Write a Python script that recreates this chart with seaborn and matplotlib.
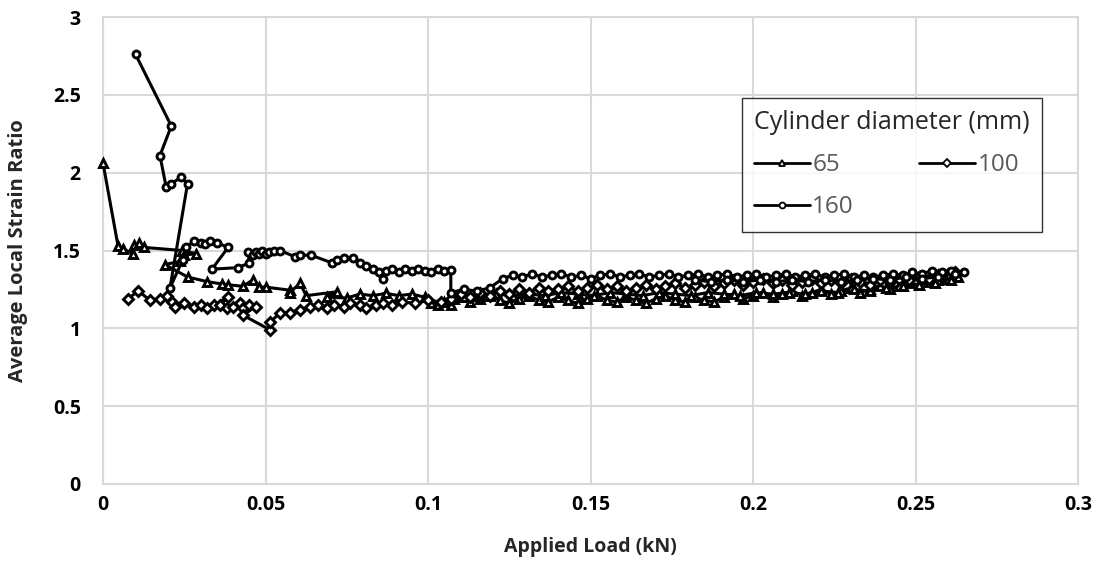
import matplotlib
matplotlib.use("Agg")
import matplotlib.pyplot as plt
import seaborn as sns
import pandas as pd
from matplotlib.lines import Line2D

# ---- data ----
x65 = [0.0000, 0.0046, 0.0062, 0.0092, 0.0095, 0.0110, 0.0126, 0.0243, 0.0286, 0.0250,
       0.0237, 0.0190, 0.0260, 0.0320, 0.0366, 0.0385, 0.0430, 0.0460, 0.0480, 0.0500,
       0.0575, 0.0575, 0.0606, 0.0625, 0.0720, 0.0690, 0.0750, 0.0790, 0.0830, 0.0870,
       0.0910, 0.0950, 0.0990, 0.1010, 0.1030, 0.1050, 0.1070, 0.1080,
       0.110, 0.113, 0.116, 0.119, 0.122, 0.125, 0.128, 0.131, 0.134, 0.137,
       0.140, 0.143, 0.146, 0.149, 0.152, 0.155, 0.158, 0.161, 0.164, 0.167,
       0.170, 0.173, 0.176, 0.179, 0.182, 0.185, 0.188,
       0.191, 0.194, 0.197, 0.200, 0.203, 0.206, 0.209, 0.212, 0.215, 0.218,
       0.221, 0.224, 0.227, 0.230, 0.233, 0.236, 0.239, 0.242, 0.245, 0.248,
       0.251, 0.254, 0.257, 0.260, 0.263,
       0.261, 0.256, 0.251, 0.246, 0.241, 0.236, 0.231, 0.226, 0.221, 0.216,
       0.211, 0.206, 0.201, 0.196, 0.191, 0.186, 0.181, 0.176, 0.171, 0.166,
       0.161, 0.156, 0.151, 0.146, 0.141, 0.136, 0.131, 0.126, 0.121, 0.116,
       0.111]
y65 = [2.06, 1.53, 1.51, 1.48, 1.535, 1.55, 1.52, 1.50, 1.48, 1.47,
       1.43, 1.41, 1.33, 1.30, 1.285, 1.28, 1.27, 1.31, 1.265, 1.265,
       1.245, 1.23, 1.29, 1.21, 1.235, 1.20, 1.195, 1.22, 1.21, 1.225,
       1.21, 1.22, 1.20, 1.16, 1.15, 1.17, 1.15, 1.19,
       1.20, 1.17, 1.19, 1.21, 1.18, 1.16, 1.19, 1.21, 1.18, 1.17,
       1.20, 1.18, 1.16, 1.19, 1.21, 1.18, 1.17, 1.20, 1.18, 1.16,
       1.19, 1.21, 1.18, 1.17, 1.20, 1.18, 1.17,
       1.20, 1.22, 1.19, 1.21, 1.23, 1.20, 1.22, 1.24, 1.21, 1.23,
       1.25, 1.22, 1.24, 1.26, 1.23, 1.25, 1.27, 1.25, 1.27, 1.29,
       1.28, 1.30, 1.31, 1.32, 1.33,
       1.31, 1.29, 1.28, 1.27, 1.26, 1.24, 1.25, 1.23, 1.24, 1.22,
       1.23, 1.22, 1.23, 1.21, 1.22, 1.23, 1.21, 1.22, 1.23, 1.21,
       1.22, 1.23, 1.21, 1.22, 1.23, 1.21, 1.22, 1.21, 1.22, 1.21,
       1.20]

x100 = [0.0077, 0.0108, 0.0145, 0.0175, 0.0197, 0.0212, 0.0220, 0.0250, 0.0280, 0.0300,
        0.0320, 0.0340, 0.0385, 0.0360, 0.0380, 0.0400, 0.0420, 0.0430, 0.0450, 0.0470,
        0.0430, 0.0514, 0.0514, 0.0545, 0.0575, 0.0606, 0.0637, 0.0660, 0.0690, 0.0710,
        0.0740, 0.0760, 0.0790, 0.0810, 0.0840, 0.0860, 0.0890, 0.0920, 0.0960, 0.1000,
        0.1040,
        0.107, 0.110, 0.113, 0.116, 0.119, 0.122, 0.125, 0.128, 0.131, 0.134,
        0.137, 0.140, 0.143, 0.146, 0.149, 0.152, 0.155, 0.158, 0.161, 0.164,
        0.167, 0.170, 0.173, 0.176, 0.179, 0.182, 0.185, 0.188, 0.191, 0.194,
        0.197, 0.200, 0.203, 0.206, 0.209, 0.212, 0.215, 0.218, 0.221, 0.224,
        0.227, 0.230, 0.233, 0.236, 0.239, 0.242, 0.245, 0.248, 0.251, 0.254,
        0.257, 0.260, 0.262]
y100 = [1.19, 1.24, 1.18, 1.19, 1.21, 1.17, 1.14, 1.16, 1.14, 1.15,
        1.13, 1.15, 1.20, 1.15, 1.13, 1.14, 1.16, 1.13, 1.15, 1.14,
        1.085, 0.99, 1.04, 1.10, 1.10, 1.12, 1.14, 1.15, 1.13, 1.15,
        1.14, 1.16, 1.15, 1.13, 1.15, 1.16, 1.15, 1.17, 1.16, 1.18,
        1.17,
        1.19, 1.22, 1.20, 1.23, 1.21, 1.24, 1.22, 1.25, 1.23, 1.26,
        1.24, 1.25, 1.27, 1.24, 1.26, 1.28, 1.25, 1.27, 1.24, 1.26,
        1.28, 1.25, 1.27, 1.29, 1.26, 1.28, 1.30, 1.27, 1.29, 1.31,
        1.28, 1.30, 1.32, 1.29, 1.31, 1.28, 1.30, 1.32, 1.29, 1.31,
        1.29, 1.32, 1.30, 1.28, 1.31, 1.30, 1.32, 1.31, 1.33, 1.32,
        1.34, 1.35, 1.36]

x160 = [0.0100, 0.0210, 0.0175, 0.0194, 0.0210, 0.0240, 0.0260, 0.0206, 0.0245, 0.0255,
        0.0280, 0.0300, 0.0315, 0.0330, 0.0350, 0.0385, 0.0335, 0.0415, 0.0450, 0.0446,
        0.0460, 0.0470, 0.0480, 0.0490, 0.0500, 0.0510, 0.0525, 0.0545, 0.0590, 0.0606,
        0.0640, 0.0705, 0.0720, 0.0740, 0.0770, 0.0790, 0.0810, 0.0860, 0.0830, 0.0850,
        0.0870, 0.0890, 0.0910, 0.0930, 0.0950, 0.0970, 0.0990, 0.1010, 0.1030, 0.1050,
        0.1070, 0.1070, 0.1110, 0.1150, 0.1190, 0.1230, 0.1260,
        0.129, 0.132, 0.135, 0.138, 0.141, 0.144, 0.147, 0.150, 0.153, 0.156,
        0.159, 0.162, 0.165, 0.168, 0.171, 0.174, 0.177, 0.180, 0.183, 0.186,
        0.189, 0.192, 0.195, 0.198, 0.201, 0.204, 0.207, 0.210, 0.213, 0.216,
        0.219, 0.222, 0.225, 0.228, 0.231, 0.234, 0.237, 0.240, 0.243, 0.246,
        0.249, 0.252, 0.255, 0.258, 0.261, 0.265,
        0.262, 0.257, 0.252, 0.247, 0.242, 0.237, 0.232, 0.227, 0.222, 0.217,
        0.212, 0.207, 0.202, 0.197, 0.192, 0.187, 0.182]
y160 = [2.76, 2.30, 2.11, 1.91, 1.93, 1.97, 1.93, 1.26, 1.44, 1.52,
        1.56, 1.55, 1.54, 1.56, 1.55, 1.52, 1.38, 1.39, 1.42, 1.49,
        1.47, 1.49, 1.48, 1.50, 1.48, 1.49, 1.50, 1.50, 1.46, 1.47,
        1.47, 1.42, 1.44, 1.45, 1.45, 1.42, 1.40, 1.32, 1.38, 1.36,
        1.37, 1.38, 1.36, 1.38, 1.37, 1.38, 1.37, 1.36, 1.38, 1.37,
        1.375, 1.23, 1.25, 1.24, 1.26, 1.32, 1.34,
        1.33, 1.35, 1.33, 1.34, 1.35, 1.33, 1.34, 1.32, 1.34, 1.35,
        1.33, 1.34, 1.35, 1.33, 1.34, 1.35, 1.33, 1.34, 1.35, 1.33,
        1.34, 1.35, 1.33, 1.34, 1.35, 1.33, 1.34, 1.35, 1.33, 1.34,
        1.35, 1.33, 1.34, 1.35, 1.33, 1.34, 1.33, 1.34, 1.35, 1.34,
        1.36, 1.35, 1.37, 1.36, 1.37, 1.36,
        1.35, 1.33, 1.32, 1.33, 1.31, 1.32, 1.31, 1.30, 1.31, 1.30,
        1.31, 1.30, 1.31, 1.30, 1.31, 1.30, 1.31]

diameters = ["65", "100", "160"]
marker_shapes = {"65": "^", "100": "D", "160": "o"}
marker_sizes = {"65": 5.8, "100": 4.6, "160": 5.0}

x_ticks = [0, 0.05, 0.1, 0.15, 0.2, 0.25, 0.3]
x_ticklabels = ["0", "0.05", "0.1", "0.15", "0.2", "0.25", "0.3"]
y_ticks = [0, 0.5, 1, 1.5, 2, 2.5, 3]
y_ticklabels = ["0", "0.5", "1", "1.5", "2", "2.5", "3"]

series = {"65": (x65, y65), "100": (x100, y100), "160": (x160, y160)}

# ---- plot ----
sns.set_theme(style="white")
plt.rcParams["font.family"] = ["Open Sans", "DejaVu Sans"]

fig = plt.figure(figsize=(11.01, 5.67), dpi=100)
ax = fig.add_axes([0.0936, 0.1464, 0.8856, 0.8236])

for d in diameters:
    xs, ys = series[d]
    df = pd.DataFrame({"load": xs, "ratio": ys})
    sns.lineplot(data=df, x="load", y="ratio", ax=ax, sort=False, estimator=None,
                 color="black", linewidth=2.2, marker=marker_shapes[d],
                 markersize=marker_sizes[d], markerfacecolor="white",
                 markeredgecolor="black", markeredgewidth=2.1, zorder=3,
                 clip_on=False)

ax.set_xlim(0, 0.3)
ax.set_ylim(0, 3)
ax.set_xticks(x_ticks)
ax.set_xticklabels(x_ticklabels)
ax.set_yticks(y_ticks)
ax.set_yticklabels(y_ticklabels)
ax.grid(True, color="#d9d9d9", linewidth=1.5)
ax.set_axisbelow(True)
for s in ax.spines.values():
    s.set_color("#d9d9d9")
    s.set_linewidth(1.5)
ax.tick_params(axis="both", length=0, labelsize=14, colors="black")
ax.tick_params(axis="x", pad=8)
ax.tick_params(axis="y", pad=16)
for lab in ax.get_xticklabels() + ax.get_yticklabels():
    lab.set_fontweight("bold")
ax.set_xlabel("Applied Load (kN)", fontsize=14, fontweight="bold", labelpad=16)
ax.set_ylabel("Average Local Strain Ratio", fontsize=14.5, fontweight="bold", labelpad=18)

order = ["65", "160", "100"]  # column-major fill gives rows: 65 100 / 160
handles = [Line2D([0], [0], color="black", linewidth=2.0, marker=marker_shapes[d],
                  markersize=marker_sizes[d] * 0.85, markerfacecolor="white",
                  markeredgecolor="black", markeredgewidth=1.3) for d in order]
leg = ax.legend(handles, order, ncol=2, title="Cylinder diameter (mm)",
                loc="upper left", bbox_to_anchor=(0.655, 0.827), borderaxespad=0,
                fontsize=17.5, title_fontsize=18, frameon=True, fancybox=False,
                handlelength=2.3, handletextpad=0.1, columnspacing=2.7,
                labelspacing=0.75, borderpad=0.5)
leg.get_frame().set_edgecolor("black")
leg.get_frame().set_linewidth(1.0)
leg._legend_box.align = "left"
for t in leg.get_texts():
    t.set_color("#595959")
leg.set_zorder(5)

fig.savefig("out.png", dpi=100)
